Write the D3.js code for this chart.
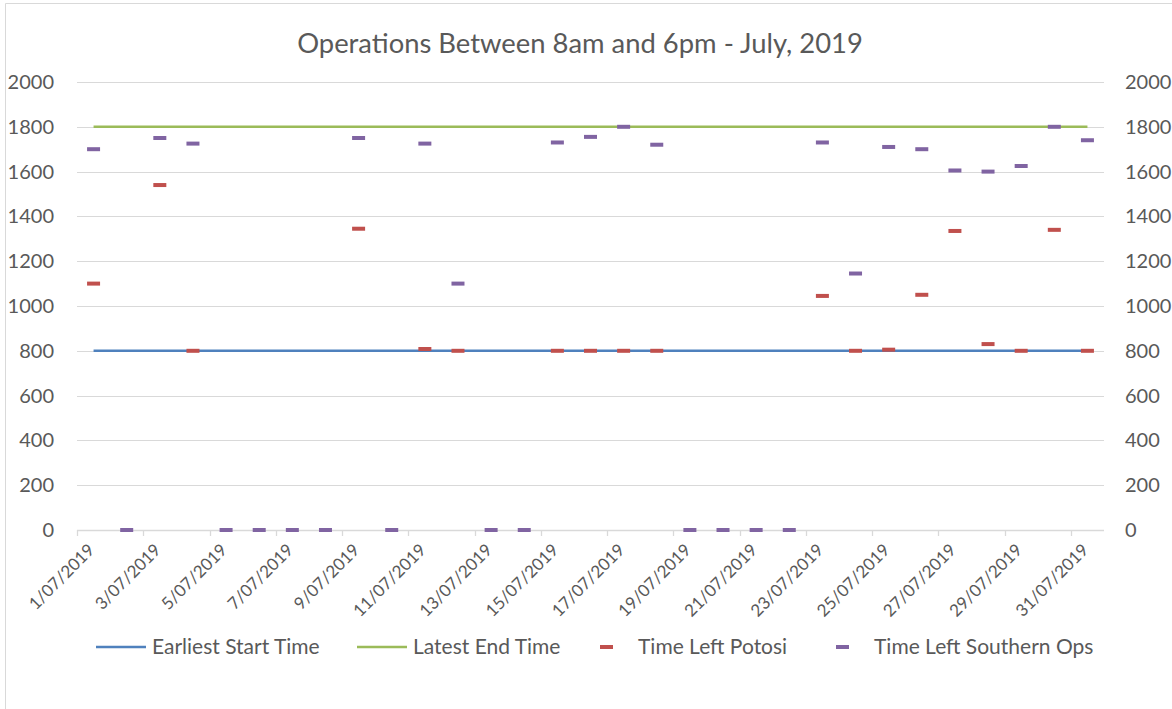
<!DOCTYPE html>
<html><head><meta charset="utf-8">
<script src="https://cdn.jsdelivr.net/npm/d3@7"></script>
<style>body{margin:0;background:#fff}svg{display:block}</style>
</head><body>
<svg id="c" width="1172" height="709"></svg>
<script>
const days = d3.range(1, 32).map(d => d + "/07/2019");
const earliestStart = days.map(() => 800);
const latestEnd = days.map(() => 1800);
const timeLeftPotosi = [1100, null, 1540, 800, null, null, null, null, 1345, null, 808, 800, null, null, 800, 800, 800, 800, null, null, null, null, 1045, 800, 805, 1050, 1335, 830, 800, 1340, 800];
const timeLeftSouthern = [1700, 0, 1750, 1725, 0, 0, 0, 0, 1750, 0, 1725, 1100, 0, 0, 1730, 1755, 1800, 1720, 0, 0, 0, 0, 1730, 1145, 1710, 1700, 1605, 1600, 1625, 1800, 1740];
const yTicks = [0, 200, 400, 600, 800, 1000, 1200, 1400, 1600, 1800, 2000];
const title = "Operations Between 8am and 6pm - July, 2019";
const legendItems = [
  {name: "Earliest Start Time", type: "line", color: "#4F81BD"},
  {name: "Latest End Time", type: "line", color: "#9BBB59"},
  {name: "Time Left Potosi", type: "dash", color: "#C0504D"},
  {name: "Time Left Southern Ops", type: "dash", color: "#8064A2"}
];

const svg = d3.select("#c");
const font = "Lato, 'Open Sans', sans-serif";
const textCol = "#595959";
const L = 77, R = 1104, T = 82, B = 530;

// chart border
svg.append("path").attr("d", "M5.5,709 L5.5,3.5 L1172,3.5").attr("fill", "none").attr("stroke", "#d9d9d9").attr("stroke-width", 1);

const x = d3.scaleBand().domain(days).range([L, R]).padding(0);
const y = d3.scaleLinear().domain([0, 2000]).range([B, T]);
const cx = d => x(d) + x.bandwidth() / 2;

// gridlines
svg.append("g").selectAll("line").data(yTicks.filter(v => v > 0)).join("line")
  .attr("x1", L).attr("x2", R).attr("y1", d => Math.round(y(d)) + 0.5).attr("y2", d => Math.round(y(d)) + 0.5)
  .attr("stroke", "#d9d9d9").attr("stroke-width", 1);

// x axis line and ticks
svg.append("line").attr("x1", L).attr("x2", R).attr("y1", B + 0.5).attr("y2", B + 0.5).attr("stroke", "#d9d9d9").attr("stroke-width", 1.3);
const tickIdx = d3.range(0, 31, 2);
svg.append("g").selectAll("line").data(tickIdx).join("line")
  .attr("x1", i => Math.round(x(days[i])) + 0.5).attr("x2", i => Math.round(x(days[i])) + 0.5)
  .attr("y1", B).attr("y2", B + 6).attr("stroke", "#d9d9d9").attr("stroke-width", 1.3);

// y labels left & right
const yl = svg.append("g").attr("font-family", font).attr("font-size", 20).attr("fill", textCol);
yl.selectAll("text.l").data(yTicks).join("text").attr("class", "l")
  .attr("x", 54).attr("y", d => y(d)).attr("dy", "0.35em").attr("text-anchor", "end").text(d => d);
yl.selectAll("text.r").data(yTicks).join("text").attr("class", "r")
  .attr("x", 1125).attr("y", d => y(d)).attr("dy", "0.35em").attr("text-anchor", "start").text(d => d);

// x labels
svg.append("g").attr("font-family", font).attr("font-size", 17).attr("fill", textCol)
  .selectAll("text").data(days.filter((d, i) => i % 2 === 0)).join("text")
  .attr("text-anchor", "end")
  .attr("transform", d => `translate(${cx(d) + 2},${B + 21}) rotate(-45)`)
  .text(d => d);

// lines
const line = d3.line().x((v, i) => cx(days[i])).y(v => y(v));
svg.append("path").datum(earliestStart).attr("d", line).attr("fill", "none").attr("stroke", "#4F81BD").attr("stroke-width", 2.5);
svg.append("path").datum(latestEnd).attr("d", line).attr("fill", "none").attr("stroke", "#9BBB59").attr("stroke-width", 2.5);

// dash markers
function dashes(vals, color) {
  svg.append("g").selectAll("rect").data(vals.map((v, i) => ({v, d: days[i]})).filter(o => o.v !== null)).join("rect")
    .attr("x", o => cx(o.d) - 6.5).attr("y", o => y(o.v) - 2).attr("width", 13).attr("height", 4).attr("fill", color);
}
dashes(timeLeftPotosi, "#C0504D");
dashes(timeLeftSouthern, "#8064A2");

// title
svg.append("text").attr("x", 580).attr("y", 53).attr("text-anchor", "middle")
  .attr("font-family", font).attr("font-size", 27.4).attr("fill", textCol).text(title);

// legend
const legX = [96, 357, 600, 836];
const lg = svg.append("g").attr("font-family", font).attr("font-size", 21).attr("fill", textCol);
legendItems.forEach((it, i) => {
  const g = lg.append("g").attr("transform", `translate(${legX[i]},647)`);
  if (it.type === "line") {
    g.append("line").attr("x1", 0).attr("x2", 50).attr("stroke", it.color).attr("stroke-width", 2.5);
    g.append("text").attr("x", 56).attr("dy", "0.35em").text(it.name);
  } else {
    g.append("rect").attr("x", 0).attr("y", -2).attr("width", 13).attr("height", 4).attr("fill", it.color);
    g.append("text").attr("x", 38).attr("dy", "0.35em").text(it.name);
  }
});
</script>
</body></html>
